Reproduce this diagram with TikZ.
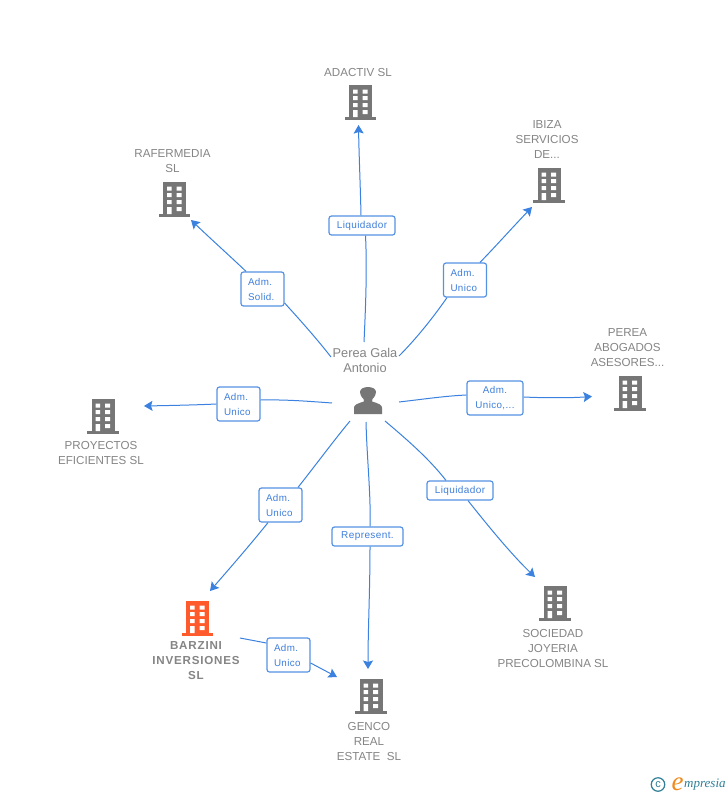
\documentclass[tikz,border=0pt]{standalone}
\usepackage{fontspec}
\setmainfont{Liberation Sans}
\newfontfamily\logofont{Liberation Serif}
\newfontfamily\spacedbold[LetterSpace=7]{Liberation Sans Bold}
\newfontfamily\spacedlabel[LetterSpace=4]{Liberation Sans}
\usetikzlibrary{arrows.meta}
\definecolor{linkblue}{HTML}{3B82E0}
\definecolor{boxblue}{HTML}{5592E4}
\definecolor{labelblue}{HTML}{3F7FDB}
\definecolor{greytext}{HTML}{858585}
\definecolor{icongrey}{HTML}{767676}
\definecolor{iconred}{HTML}{FF5A2B}
\definecolor{logoteal}{HTML}{2F7F97}
\definecolor{logoorange}{HTML}{F08A1D}
\tikzset{
  link/.style={draw=linkblue,line width=1pt},
  linkto/.style={link,-{Stealth[length=8.5pt,width=10pt,inset=1.5pt]}},
  rolebox/.style={draw=boxblue,fill=white,line width=1.2pt,rounded corners=2.5pt,
    inner sep=0pt,text=labelblue,align=center,
    font=\spacedlabel\fontsize{9.8}{15}\selectfont},
  roleleft/.style={rolebox,align=left,text width=29pt},
  rolewide/.style={rolebox,font=\spacedlabel\fontsize{10}{15}\selectfont},
  nametext/.style={text=greytext,align=center,inner sep=0pt,
    font=\fontsize{11.6}{15}\selectfont},
  bodybox/.style={minimum width=23pt,minimum height=32pt,inner sep=0pt,anchor=north,draw=none},
}
% #1 name, #2 centre x, #3 top y, #4 colour
\newcommand{\bldgicon}[4]{%
  \node[bodybox,fill=#4] (#1) at (#2,#3) {};
  \begin{scope}[shift={(#2,#3)}]
    \fill[#4] (-15.75,32) rectangle (15.75,35);
    \fill[white] (-7.5,4.5) rectangle (-3,8.5) (2,4.5) rectangle (7,8.5)
      (-7.5,11) rectangle (-3,15) (2,11) rectangle (7,15)
      (-7.5,18) rectangle (-3,22) (2,18) rectangle (7,22)
      (-7.5,25) rectangle (-3,32) (2,25) rectangle (7,29);
  \end{scope}}
\begin{document}
\begin{tikzpicture}[x=1pt,y=-1pt]
\useasboundingbox[fill=white] (0,0) rectangle (728,795);

% free ends of the connectors
\coordinate (sLiq) at (364,342);   \coordinate (eLiq) at (358.5,125);
\coordinate (sSol) at (331,357);   \coordinate (eSol) at (191,220);
\coordinate (sIbi) at (399,356);   \coordinate (eIbi) at (532,207);
\coordinate (sPer) at (399,402);   \coordinate (ePer) at (592,396.5);
\coordinate (sPro) at (332,403);   \coordinate (ePro) at (144,406);
\coordinate (sBar) at (350,421);   \coordinate (eBar) at (210,591);
\coordinate (sGen) at (366,422);   \coordinate (eGen) at (368,669);
\coordinate (sSoc) at (385,421);   \coordinate (eSoc) at (535,577);
\coordinate (sBG)  at (240,638);   \coordinate (eBG)  at (337,677);

% role boxes
\node[rolewide,minimum width=66pt,minimum height=19pt] (rLiqA) at (362,225.5) {\raisebox{-0.8pt}{Liquidador}};
\node[roleleft,minimum width=43pt,minimum height=34pt] (rSol) at (262.5,289) {Adm.\\Solid.};
\node[roleleft,minimum width=43pt,minimum height=34pt] (rIbi) at (465,280) {Adm.\\Unico};
\node[rolebox,minimum width=56pt,minimum height=34pt] (rPer) at (495,398) {Adm.\\Unico,...};
\node[roleleft,minimum width=43pt,minimum height=34pt] (rPro) at (238.5,404) {Adm.\\Unico};
\node[roleleft,minimum width=43pt,minimum height=34pt] (rBar) at (280.5,505) {Adm.\\Unico};
\node[rolewide,minimum width=71pt,minimum height=19pt] (rGen) at (367.5,536.5) {\raisebox{-0.8pt}{Represent.}};
\node[rolewide,minimum width=66pt,minimum height=19pt] (rSoc) at (460,490.5) {\raisebox{-0.8pt}{Liquidador}};
\node[roleleft,minimum width=43pt,minimum height=34pt] (rBG) at (288.5,655) {Adm.\\Unico};

% connectors
\draw[link] (sLiq) .. controls (366,300) and (367,265) .. ([xshift=3.5pt]rLiqA.south);
\draw[linkto] ([xshift=-1pt]rLiqA.north) .. controls (360.5,190) and (359,155) .. (eLiq);
\draw[link] (sSol) .. controls (317,339) and (300,320) .. ([yshift=-14pt]rSol.east);
\draw[linkto] ([xshift=-16.5pt]rSol.north) .. controls (232,258) and (212,240) .. (eSol);
\draw[link] (sIbi) .. controls (413,342) and (430,322) .. ([xshift=-18pt]rIbi.south);
\draw[linkto] ([xshift=15pt]rIbi.north) .. controls (495,247) and (512,228) .. (eIbi);
\draw[link] (sPer) .. controls (425,399) and (445,396) .. ([yshift=3pt]rPer.west);
\draw[linkto] ([yshift=1pt]rPer.east) .. controls (545,398) and (570,398) .. (ePer);
\draw[link] (sPro) .. controls (305,401) and (285,399.5) .. ([yshift=4pt]rPro.east);
\draw[linkto] (rPro.west) .. controls (195,405) and (170,405.5) .. (ePro);
\draw[link] (sBar) .. controls (335,439) and (318,462) .. ([xshift=17.5pt]rBar.north);
\draw[linkto] ([xshift=-12.5pt]rBar.south) .. controls (250,545) and (230,568) .. (eBar);
\draw[link] (sGen) .. controls (367,460) and (371,495) .. ([xshift=2.5pt]rGen.north);
\draw[linkto] ([xshift=2.5pt]rGen.south) .. controls (370,590) and (368,630) .. (eGen);
\draw[link] (sSoc) .. controls (410,442) and (430,460) .. ([xshift=-14pt]rSoc.north);
\draw[linkto] ([xshift=8pt]rSoc.south) .. controls (485,522) and (510,553) .. (eSoc);
\draw[link] (sBG) -- ([yshift=12pt]rBG.west);
\draw[linkto] ([yshift=-8pt]rBG.east) -- (eBG);

% buildings
\bldgicon{adactiv}{360.5}{85}{icongrey}
\bldgicon{rafermedia}{174.5}{182}{icongrey}
\bldgicon{ibiza}{549}{168}{icongrey}
\bldgicon{perea}{630}{376}{icongrey}
\bldgicon{proyectos}{103}{399}{icongrey}
\bldgicon{barzini}{197.5}{601}{iconred}
\bldgicon{genco}{371}{679}{icongrey}
\bldgicon{sociedad}{555}{586}{icongrey}

% person
\node[minimum width=28pt,minimum height=27pt,inner sep=0pt] (person) at (368,400.5) {};
\fill[icongrey] (354,414) -- (354,408) .. controls (354,405) and (356,404) .. (364,401.5)
  .. controls (364,400) and (364,399.5) .. (363.5,399)
  .. controls (361,396.5) and (360,394) .. (360,392)
  .. controls (360,389) and (363.5,387) .. (368,387)
  .. controls (372.5,387) and (376,389) .. (376,392)
  .. controls (376,394) and (375,396.5) .. (372.5,399)
  .. controls (372,399.5) and (372,400) .. (372,401.5)
  .. controls (380,404) and (382,405) .. (382,408) -- (382,414) -- cycle;

% names
\node[nametext,font=\fontsize{12.8}{15}\selectfont] (tPerson) at (365,360) {Perea Gala\\Antonio};
\node[nametext] (tAda) at (358,73) {ADACTIV SL};
\node[nametext] (tRaf) at (172.5,161) {RAFERMEDIA\\SL};
\node[nametext] (tIbi) at (547,140) {IBIZA\\SERVICIOS\\DE...};
\node[nametext] (tPer) at (627.5,348) {PEREA\\ABOGADOS\\ASESORES...};
\node[nametext] (tPro) at (101,453) {PROYECTOS\\EFICIENTES SL};
\node[nametext,font=\spacedbold\fontsize{11.6}{15}\selectfont] (tBar) at (196,661) {BARZINI\\INVERSIONES\\SL};
\node[nametext] (tGen) at (369,741) {GENCO\\REAL\\ESTATE\ \ SL};
\node[nametext] (tSoc) at (553,648) {SOCIEDAD\\JOYERIA\\PRECOLOMBINA SL};

% logo
\node[draw=logoteal,line width=1.2pt,circle,minimum size=13.5pt,inner sep=0pt,text=logoteal,
  font=\fontsize{11}{11}\selectfont] (logoC) at (658,784.5) {\raisebox{0.8pt}{c}};
\node[inner sep=0pt,text=logoorange,font=\logofont\itshape\fontsize{27}{27}\selectfont] (logoE) at (677.5,784.5) {e};
\node[inner sep=0pt,anchor=west,text=logoteal,font=\logofont\itshape\fontsize{13}{14}\selectfont] (logoT) at (684,785) {mpresia};
\end{tikzpicture}
\end{document}
